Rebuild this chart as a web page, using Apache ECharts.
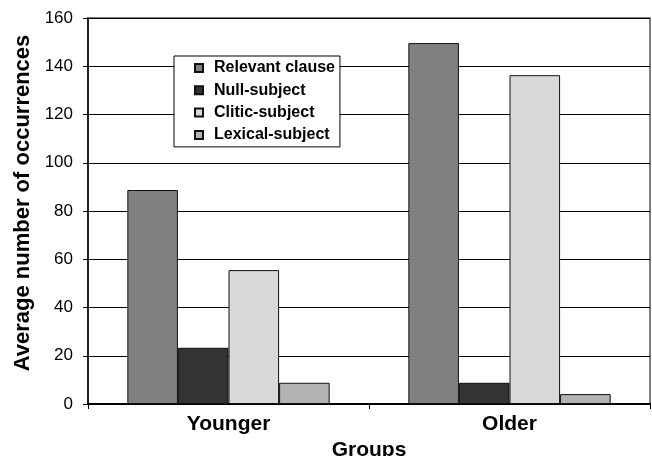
<!DOCTYPE html>
<html>
<head>
<meta charset="utf-8">
<script src="https://cdn.jsdelivr.net/npm/echarts@6/dist/echarts.min.js"></script>
<style>html,body{margin:0;padding:0;background:#fff}#c{width:652px;height:456px}</style>
</head>
<body>
<div id="c"></div>
<script>
const categories = ['Younger', 'Older'];
const seriesNames = ['Relevant clause', 'Null-subject', 'Clitic-subject', 'Lexical-subject'];
const relevantClause = [88.7, 149.6];
const nullSubject = [23.3, 8.8];
const cliticSubject = [55.5, 136.3];
const lexicalSubject = [8.8, 4.1];
const yTicks = [0, 20, 40, 60, 80, 100, 120, 140, 160];

const colors = ['#808080', '#333333', '#d9d9d9', '#b3b3b3'];
const values = [relevantClause, nullSubject, cliticSubject, lexicalSubject];
const font = 'Liberation Sans, Arial, Helvetica, sans-serif';

const chart = echarts.init(document.getElementById('c'), null, {renderer: 'canvas'});
chart.setOption({
  animation: false,
  backgroundColor: '#fff',
  grid: {left: 88, right: 2, top: 18, bottom: 52, containLabel: false, outerBoundsMode: 'none', show: true, borderColor: '#555', borderWidth: 1.5, backgroundColor: 'transparent'},
  legend: {
    orient: 'vertical',
    left: 174,
    top: 56,
    backgroundColor: '#fff',
    borderColor: '#000',
    borderWidth: 1,
    borderRadius: 0,
    padding: [4, 5, 4, 20],
    itemWidth: 8,
    itemHeight: 8,
    itemGap: 6.3,
    icon: 'rect',
    textStyle: {fontFamily: font, fontWeight: 'bold', fontSize: 16, color: '#000', lineHeight: 16, padding: [0, 0, 0, 6]},
    data: seriesNames
  },
  xAxis: {
    type: 'category',
    data: categories,
    boundaryGap: true,
    name: 'Groups',
    nameLocation: 'middle',
    nameGap: 32,
    nameTextStyle: {fontFamily: font, fontWeight: 'bold', fontSize: 21, color: '#000', verticalAlign: 'top'},
    axisLine: {lineStyle: {color: '#000', width: 2}},
    axisTick: {show: true, length: 5, lineStyle: {color: '#000', width: 1}},
    axisLabel: {fontFamily: font, fontWeight: 'bold', fontSize: 21, color: '#000', margin: 10}
  },
  yAxis: {
    type: 'value',
    min: yTicks[0],
    max: yTicks[yTicks.length - 1],
    interval: 20,
    name: 'Average number of occurrences',
    nameLocation: 'middle',
    nameGap: 46,
    nameTextStyle: {fontFamily: font, fontWeight: 'bold', fontSize: 22, color: '#000', padding: [0, 0, 0, 16]},
    axisLine: {show: true, lineStyle: {color: '#000', width: 1.5}},
    axisTick: {show: true, length: 5, lineStyle: {color: '#000', width: 1}},
    axisLabel: {fontFamily: font, fontSize: 17, color: '#000', margin: 15},
    splitLine: {show: true, lineStyle: {color: '#000', width: 1}}
  },
  series: seriesNames.map((n, i) => ({
    name: n,
    type: 'bar',
    data: values[i],
    barGap: '0%',
    barCategoryGap: '28%',
    itemStyle: {color: colors[i], borderColor: '#111', borderWidth: 1}
  }))
});
</script>
</body>
</html>
